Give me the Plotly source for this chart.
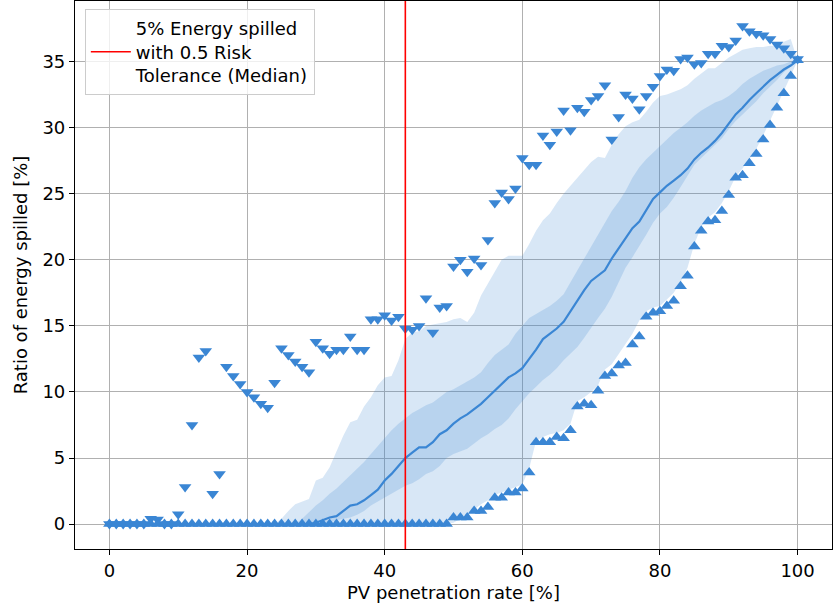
import plotly.graph_objects as go

# PV penetration rate [%]
penetration = list(range(0, 101))

median = [0]*30 + [0.1, 0.3, 0.5, 0.6, 1.0, 1.4, 1.5, 1.8, 2.2, 2.6,
                   3.3, 3.8, 4.4, 5.0, 5.4, 5.8, 5.8, 6.2, 6.8, 7.1,
                   7.6, 8.0, 8.3, 8.7, 9.1, 9.6, 10.1, 10.6, 11.1, 11.4,
                   11.8, 12.5, 13.2, 14.0, 14.4, 14.8, 15.3, 16.1, 17.0, 17.7,
                   18.4, 18.8, 19.2, 20.1, 20.9, 21.6, 22.4, 22.9, 23.7, 24.6,
                   25.1, 25.6, 26.0, 26.4, 26.9, 27.6, 28.1, 28.5, 29.0, 29.6,
                   30.3, 31.0, 31.5, 32.1, 32.6, 33.1, 33.6, 34.0, 34.4, 34.7,
                   35.1]

outer_upper = [0]*25 + [0.4, 1.0, 1.5, 1.7, 1.9, 3.3, 3.5, 4.3, 5.5, 6.7,
                        7.7, 7.9, 8.9, 9.6, 10.5, 11.1, 11.2, 12.4, 14.0, 14.5,
                        14.6, 15.0, 15.1, 15.2, 15.3, 15.5, 15.6, 15.3, 16.0, 17.3,
                        18.2, 19.0, 20.0, 20.3, 20.3, 20.3, 21.2, 22.2, 23.0, 23.5,
                        24.3, 25.0, 25.6, 26.2, 26.8, 27.4, 27.8, 27.7, 28.7, 29.5,
                        30.1, 30.4, 30.6, 31.2, 31.9, 32.4, 32.5, 32.7, 32.9, 33.2,
                        33.7, 34.1, 34.5, 34.5, 34.9, 35.3, 35.6, 35.9, 36.0, 36.1,
                        36.1, 36.2, 36.2, 36.5, 36.7, 35.1]

outer_lower = [0]*50 + [0.1, 0.4, 0.8, 1.1, 1.5, 1.8, 2.2, 2.4, 2.6, 2.8,
                        3.0, 4.2, 6.3, 6.6, 6.8, 6.9, 7.1, 7.6, 9.3, 9.6,
                        10.0, 10.5, 11.7, 12.1, 12.9, 13.6, 14.4, 15.4, 16.1, 16.4,
                        16.5, 17.0, 17.5, 18.3, 19.4, 21.2, 22.5, 23.2, 23.6, 24.3,
                        25.2, 26.3, 26.9, 27.6, 28.4, 29.4, 30.5, 31.6, 32.7, 33.9,
                        35.1]

inner_upper = [0]*28 + [0.4, 0.9, 1.4, 1.8, 2.3, 2.7, 3.2, 3.7, 4.2, 4.7, 5.3, 5.9,
                        6.5, 7.1, 7.6, 8.0, 8.4, 8.7, 9.0, 9.2, 9.6, 10.0,
                        10.2, 10.5, 10.8, 11.1, 11.5, 12.2, 12.8, 13.2, 13.6, 14.4,
                        15.0, 15.6, 15.9, 16.2, 16.5, 16.9, 17.4, 18.3, 19.2, 20.1,
                        21.0, 21.9, 22.8, 23.7, 24.4, 25.2, 26.2, 27.0, 27.6, 28.1,
                        28.6, 29.1, 29.6, 30.0, 30.4, 30.9, 31.3, 31.6, 31.9, 32.1,
                        32.4, 32.8, 33.3, 33.7, 34.0, 34.3, 34.5, 34.7, 34.8, 35.0,
                        35.1]

inner_lower = [0]*32 + [0.1, 0.3, 0.4, 0.5, 0.7, 1.0, 1.4, 1.7,
                        2.0, 2.3, 2.6, 2.9, 3.1, 3.4, 3.8, 4.0, 4.4, 5.0,
                        5.3, 5.5, 5.7, 6.1, 6.5, 6.8, 7.2, 7.5, 8.0, 8.7,
                        9.3, 9.9, 10.4, 10.9, 11.3, 11.8, 12.4, 12.9, 13.4, 14.1,
                        14.9, 15.6, 16.3, 17.2, 18.3, 19.4, 20.2, 21.0, 21.9, 22.8,
                        23.5, 24.0, 24.7, 25.5, 26.4, 27.2, 27.7, 28.2, 28.7, 29.2,
                        29.9, 30.5, 31.0, 31.5, 32.0, 32.6, 33.1, 33.6, 34.2, 34.6,
                        35.1]

maximum = [0, 0, 0, 0, 0, 0, 0.4, 0.35, 0, 0,
           0.75, 2.8, 7.5, 12.6, 13.1, 2.3, 3.8, 11.9, 11.2, 10.6,
           10.0, 9.6, 9.1, 8.8, 10.7, 13.3, 12.8, 12.3, 11.9, 11.5,
           13.8, 13.3, 12.9, 13.2, 13.2, 14.2, 13.2, 13.2, 15.5, 15.5,
           15.8, 15.4, 15.7, 14.8, 14.7, 15.0, 17.1, 14.5, 16.4, 16.5,
           19.5, 20.0, 19.1, 20.1, 19.6, 21.5, 24.3, 25.1, 24.6, 25.4,
           27.7, 27.2, 27.2, 29.4, 28.7, 29.7, 31.3, 29.8, 31.5, 31.2,
           32.1, 32.4, 33.2, 29.1, 30.8, 32.5, 32.2, 31.4, 32.4, 33.1,
           33.9, 34.4, 34.3, 35.2, 35.3, 34.8, 34.9, 35.6, 35.6, 36.2,
           36.1, 36.6, 37.7, 37.3, 37.1, 37.0, 36.7, 36.3, 36.0, 35.6,
           35.2]

minimum = [0]*50 + [0.5, 0.5, 0.5, 1.0, 1.0, 1.3, 2.0, 2.0, 2.4, 2.4,
                    2.7, 3.9, 6.2, 6.2, 6.2, 6.6, 6.5, 7.1, 8.9, 9.1,
                    9.0, 10.1, 11.2, 11.4, 12.0, 12.2, 13.6, 14.2, 15.7, 16.0,
                    16.1, 16.5, 16.9, 18.0, 18.8, 21.0, 22.2, 22.9, 23.0, 23.7,
                    24.9, 26.2, 26.4, 27.3, 28.0, 29.1, 30.2, 31.5, 32.6, 33.9,
                    35.1]

threshold_x = 43
legend_label = "5% Energy spilled<br>with 0.5 Risk<br>Tolerance (Median)"

BLUE = "rgb(58,134,212)"
BAND = "rgba(58,134,212,0.2)"

fig = go.Figure()

fig.add_trace(go.Scatter(x=penetration, y=outer_lower, mode="lines",
                         line=dict(width=0), showlegend=False, hoverinfo="skip"))
fig.add_trace(go.Scatter(x=penetration, y=outer_upper, mode="lines",
                         line=dict(width=0), fill="tonexty", fillcolor=BAND,
                         showlegend=False, hoverinfo="skip"))
fig.add_trace(go.Scatter(x=penetration, y=inner_lower, mode="lines",
                         line=dict(width=0), showlegend=False, hoverinfo="skip"))
fig.add_trace(go.Scatter(x=penetration, y=inner_upper, mode="lines",
                         line=dict(width=0), fill="tonexty", fillcolor=BAND,
                         showlegend=False, hoverinfo="skip"))
fig.add_trace(go.Scatter(x=penetration, y=median, mode="lines",
                         line=dict(color=BLUE, width=2.2), showlegend=False))
fig.add_trace(go.Scatter(x=penetration, y=maximum, mode="markers",
                         marker=dict(symbol="triangle-down", size=11, color=BLUE,
                                     line=dict(width=0)),
                         showlegend=False))
fig.add_trace(go.Scatter(x=penetration, y=minimum, mode="markers",
                         marker=dict(symbol="triangle-up", size=11, color=BLUE,
                                     line=dict(width=0)),
                         showlegend=False))
# legend entry for the threshold line
fig.add_trace(go.Scatter(x=[None], y=[None], mode="lines",
                         line=dict(color="red", width=1.6), name=legend_label))

fig.add_shape(type="line", x0=threshold_x, x1=threshold_x, xref="x",
              y0=0, y1=1, yref="paper", line=dict(color="red", width=1.6),
              layer="above")

axis_common = dict(showline=True, linecolor="black", linewidth=1.2, mirror=True,
                   ticks="outside", ticklen=5, tickcolor="black",
                   showgrid=True, gridcolor="#b0b0b0", gridwidth=1,
                   zeroline=False, tickfont=dict(size=18, color="black"))

fig.update_layout(
    width=833, height=613,
    margin=dict(l=75, r=1, t=1, b=64),
    paper_bgcolor="white", plot_bgcolor="white",
    font=dict(family="DejaVu Sans", size=18, color="black"),
    xaxis=dict(range=[-5, 105], tickvals=[0, 20, 40, 60, 80, 100],
               title=dict(text="PV penetration rate [%]", standoff=6, font=dict(size=18)),
               **axis_common),
    yaxis=dict(range=[-1.885, 39.585], tickvals=[0, 5, 10, 15, 20, 25, 30, 35],
               title=dict(text="Ratio of energy spilled [%]", standoff=10, font=dict(size=18)),
               **axis_common),
    legend=dict(x=0.013, y=0.985, xanchor="left", yanchor="top",
                bgcolor="rgba(255,255,255,0.8)", bordercolor="#cccccc", borderwidth=1,
                font=dict(size=18), itemwidth=40),
    hovermode=False,
)

fig.write_html("out.html")
